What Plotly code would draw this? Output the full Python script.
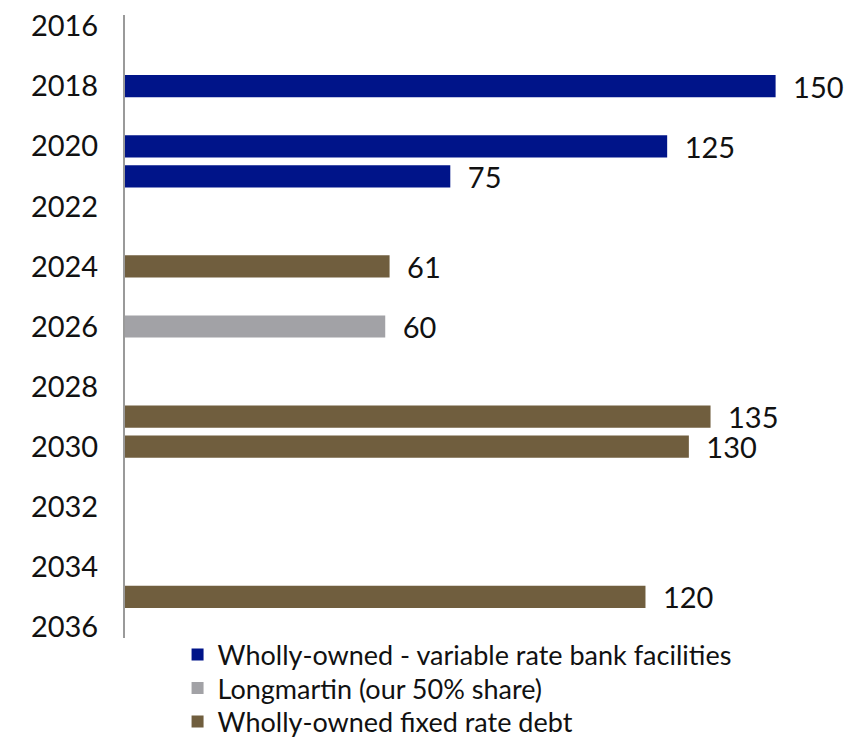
import plotly.graph_objects as go

variable_years = [2018, 2020, 2021]
variable_vals = [150, 125, 75]
longmartin_years = [2026]
longmartin_vals = [60]
fixed_years = [2024, 2029, 2030, 2035]
fixed_vals = [61, 135, 130, 120]
tick_years = list(range(2016, 2037, 2))

FONT = "Lato"
fig = go.Figure()
series = [
    ("Wholly-owned - variable rate bank facilities", variable_years, variable_vals, "#001489", "legend"),
    ("Longmartin (our 50% share)", longmartin_years, longmartin_vals, "#A2A2A6", "legend2"),
    ("Wholly-owned fixed rate debt", fixed_years, fixed_vals, "#705E3E", "legend3"),
]
for name, ys, xs, col, lg in series:
    fig.add_trace(go.Bar(
        y=ys, x=xs, orientation="h", name=name, legend=lg,
        marker=dict(color=col, line=dict(width=0)),
        width=0.74,
        texttemplate="\u2002%{x}", textposition="outside",
        constraintext="none",
        textfont=dict(family=FONT, size=29, color="#111"),
        cliponaxis=False,
    ))

H = 738.0
def leg(ycenter):
    return dict(
        orientation="v", x=0.073, xanchor="left",
        yref="container", y=1 - ycenter / H, yanchor="middle",
        font=dict(family=FONT, size=27, color="#111"),
        itemwidth=30, bgcolor="rgba(0,0,0,0)",
    )

fig.update_layout(
    width=845, height=738,
    margin=dict(l=125, r=0, t=15, b=100, autoexpand=False),
    paper_bgcolor="white", plot_bgcolor="white",
    barmode="overlay",
    showlegend=True,
    legend=leg(655), legend2=leg(688.5), legend3=leg(722),
    xaxis=dict(range=[0, 166], visible=False, showgrid=False, zeroline=False),
    yaxis=dict(
        range=[2036.37, 2015.63], tickmode="array", tickvals=tick_years,
        ticktext=[str(t) for t in tick_years],
        showline=True, linecolor="#9a9a9a", linewidth=2,
        showgrid=False, zeroline=False, ticks="",
        ticklabelstandoff=19,
        tickfont=dict(family=FONT, size=29, color="#111"),
    ),
)
fig.write_html("out.html")
